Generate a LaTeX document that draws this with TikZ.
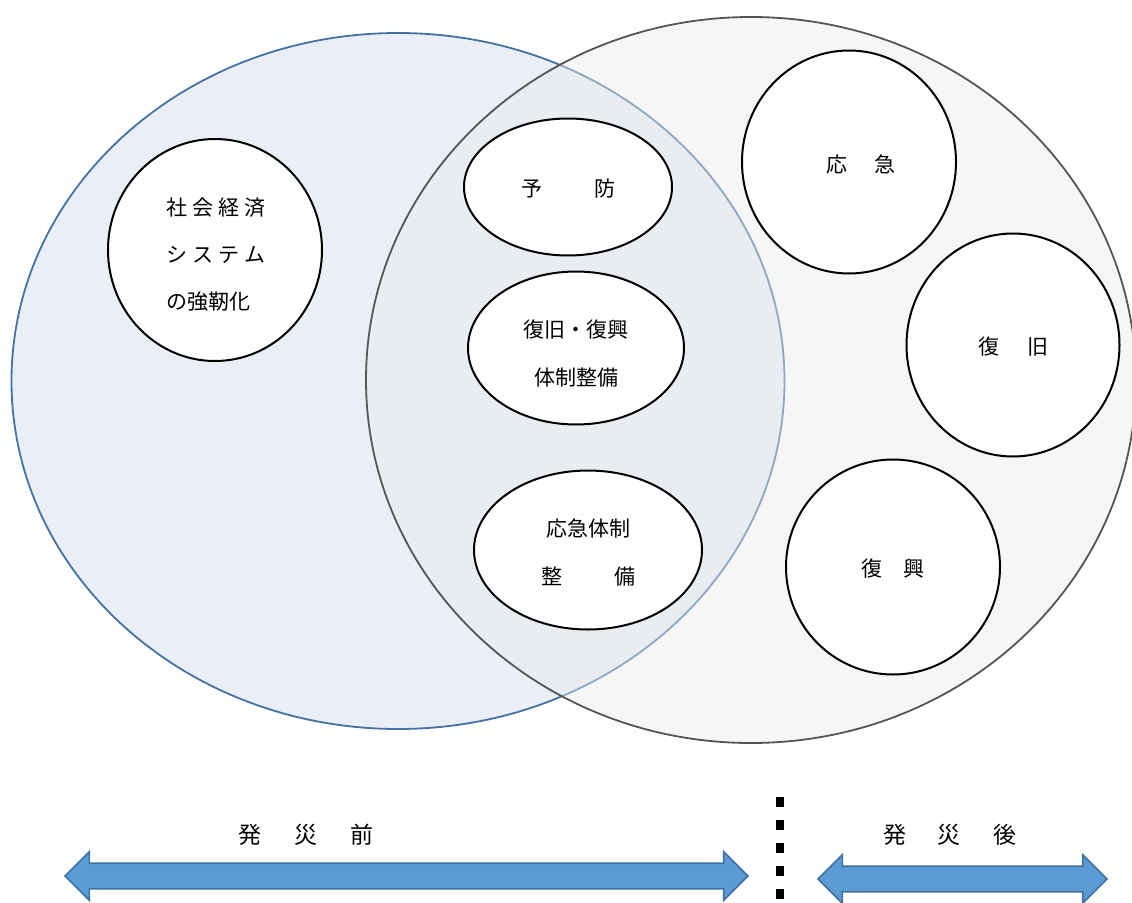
\documentclass[tikz,border=0pt]{standalone}
\usepackage{fontspec}
\newfontfamily\jp{Noto Sans CJK JP}
\usetikzlibrary{shapes.geometric,shapes.arrows}
\definecolor{pastfill}{RGB}{233,238,247}
\definecolor{paststroke}{RGB}{68,114,164}
\definecolor{postfill}{RGB}{234,234,234}
\definecolor{poststroke}{RGB}{85,85,85}
\definecolor{arrowfill}{RGB}{91,155,213}
\definecolor{arrowborder}{RGB}{65,113,156}
\begin{document}
\begin{tikzpicture}[x=1pt,y=-1pt,
  bigset/.style={ellipse, line width=1.8pt, inner sep=0pt},
  item/.style={ellipse, draw=black, fill=white, line width=2pt, inner sep=0pt},
  itemtext/.style={font=\jp\fontsize{21}{48}\selectfont, align=center, inner sep=0pt},
  period/.style={double arrow, draw=arrowborder, fill=arrowfill, line width=1.6pt,
    inner xsep=0pt, inner ysep=12pt, double arrow head extend=11.5pt, double arrow tip angle=90},
  periodlabel/.style={font=\jp\fontsize{23}{26}\selectfont, inner sep=0pt}
]
\useasboundingbox (0,0) rectangle (1132,902);

% big sets
\node[bigset, draw=paststroke, fill=pastfill, minimum width=773pt, minimum height=696pt] (pre) at (398,381) {};
\node[bigset, draw=poststroke, fill=postfill, fill opacity=0.45, minimum width=770pt, minimum height=726pt] (post) at (751,380) {};

% items
\node[item, minimum width=214pt, minimum height=222pt] (econ) at (215,250) {};
\node[itemtext, align=left, font=\jp\fontsize{21}{47}\selectfont] (econtext) at (216,255)
  {社\hspace{5pt}会\hspace{5pt}経\hspace{5pt}済\\シ\hspace{5pt}ス\hspace{5pt}テ\hspace{5pt}ム\\の強靭化};
\node[item, minimum width=208pt, minimum height=137pt] (yobo) at (568,187) {};
\node[itemtext] (yobotext) at (568,189) {予\hspace{52pt}防};
\node[item, minimum width=216pt, minimum height=153pt] (fukkyu) at (576,348) {};
\node[itemtext] (fukkyutext) at (576,354) {復旧・復興\\体制整備};
\node[item, minimum width=228pt, minimum height=159pt] (okyutaisei) at (588,550) {};
\node[itemtext] (okyutaiseitext) at (588,552) {応急体制\\整\hspace{52pt}備};
\node[item, minimum width=214pt, minimum height=223pt] (okyu) at (849,162) {};
\node[itemtext] (okyutext) at (861,164) {応\hspace{27pt}急};
\node[item, minimum width=213pt, minimum height=223pt] (kyu) at (1013,345) {};
\node[itemtext] (kyutext) at (1013,347) {復\hspace{28pt}旧};
\node[item, minimum width=214pt, minimum height=215pt] (ko) at (893,567) {};
\node[itemtext] (kotext) at (893,569) {復\hspace{22pt}興};

% time axis
\node[period, minimum width=47pt, minimum height=683pt] (before) at (406.5,876) {};
\node[period, minimum width=46pt, minimum height=289pt] (after) at (962.5,879) {};
\node[periodlabel] (beforelabel) at (306,835) {発\hspace{33pt}災\hspace{33pt}前};
\node[periodlabel] (afterlabel) at (950,835) {発\hspace{31pt}災\hspace{33pt}後};

\coordinate (divtop) at (780,797);
\coordinate (divbot) at (780,905);
\draw[line width=8pt, dash pattern=on 10pt off 13pt] (divtop) -- (divbot);
\end{tikzpicture}
\end{document}
